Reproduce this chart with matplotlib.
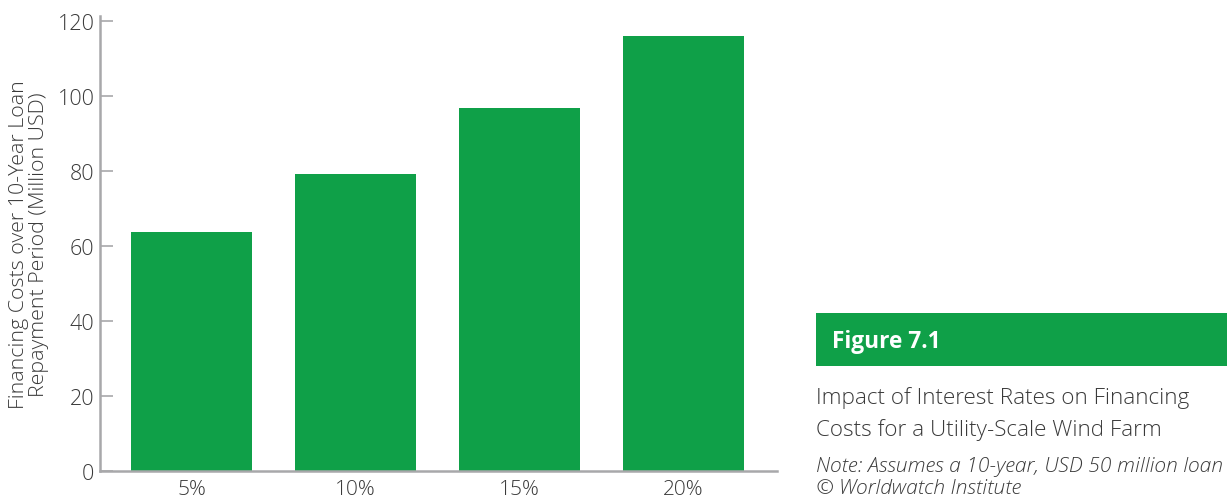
import matplotlib
matplotlib.use("Agg")
import matplotlib.pyplot as plt
from matplotlib.patches import Rectangle

# Interest rate scenarios and total financing cost (million USD)
rates = ["5%", "10%", "15%", "20%"]
costs = [63.6, 79.3, 96.8, 116.0]
y_ticks = [0, 20, 40, 60, 80, 100, 120]

GREEN = "#0fa048"
AXIS_GREY = "#a8a8aa"
TEXT = "#3a3a3a"

plt.rcParams["font.family"] = ["Open Sans", "DejaVu Sans"]

fig = plt.figure(figsize=(12.27, 5.02), dpi=100)
W, H = 1227, 502
ax = fig.add_axes([100 / W, 30 / H, 677 / W, 455 / H])

x = range(len(rates))
ax.bar(x, costs, width=0.738, color=GREEN, zorder=2)

ax.set_xlim(-0.558, 3.57)
ax.set_ylim(0, 121.3)
ax.set_yticks(y_ticks)
ax.set_yticklabels([str(v) for v in y_ticks], fontsize=15.5, color=TEXT, fontweight="light")
ax.set_xticks(list(x))
ax.set_xticklabels(rates, fontsize=15, color=TEXT, fontweight="light")

ax.tick_params(axis="y", direction="in", length=9.5, width=1.2, color=AXIS_GREY, pad=4)
ax.tick_params(axis="x", length=0, pad=6)

for side in ("top", "right"):
    ax.spines[side].set_visible(False)
for side in ("left", "bottom"):
    ax.spines[side].set_color(AXIS_GREY)
    ax.spines[side].set_linewidth(1.8)

ax.set_ylabel("Financing Costs over 10-Year Loan\nRepayment Period (Million USD)",
              fontsize=15.4, color=TEXT, fontweight="light", linespacing=1.0, labelpad=6)

# Caption block
fig.patches.append(Rectangle((816 / W, 1 - 367 / H), (W - 816) / W, 53 / H,
                             transform=fig.transFigure, facecolor=GREEN,
                             edgecolor="none"))
fig.text(832 / W, 1 - 342 / H, "Figure 7.1", fontsize=16.3, fontweight="bold",
         color="white", va="center", ha="left")
fig.text(816 / W, 1 - 398 / H, "Impact of Interest Rates on Financing",
         fontsize=16.2, color=TEXT, fontweight="light", va="center", ha="left")
fig.text(816 / W, 1 - 430 / H, "Costs for a Utility-Scale Wind Farm",
         fontsize=16.2, color=TEXT, fontweight="light", va="center", ha="left")
fig.text(816 / W, 1 - 467 / H, "Note: Assumes a 10-year, USD 50 million loan",
         fontsize=15.1, color=TEXT, style="italic", fontweight="light",
         va="center", ha="left")
fig.text(816 / W, 1 - 489 / H, "\u00a9 Worldwatch Institute",
         fontsize=15.1, color=TEXT, style="italic", fontweight="light",
         va="center", ha="left")

fig.savefig("out.png", dpi=100)
